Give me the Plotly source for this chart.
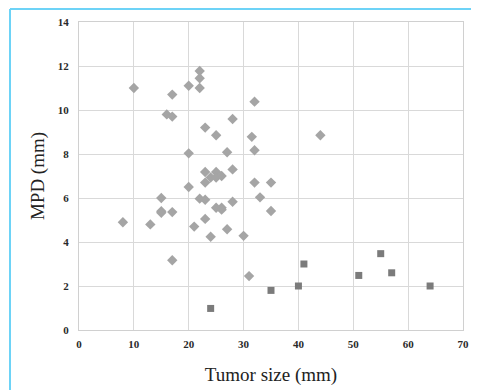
import plotly.graph_objects as go

# Diamond series (MPD vs tumor size)
diamond_x = [8, 10, 13, 15, 15, 15, 16, 17, 17, 17, 17, 20, 20, 20, 21, 22, 22, 22, 22,
             23, 23, 23, 23, 23, 24, 24, 25, 25, 25, 25, 26, 26, 26, 27, 27, 28, 28, 28,
             30, 31, 31.5, 32, 32, 32, 33, 35, 35, 44]
diamond_y = [4.9, 11.0, 4.8, 6.0, 5.4, 5.33, 9.8, 10.7, 9.7, 5.36, 3.17, 11.1, 8.03, 6.5,
             4.7, 11.77, 11.44, 11.0, 5.97, 9.2, 7.18, 6.7, 5.92, 5.05, 6.93, 4.24, 8.85,
             7.18, 6.93, 5.56, 7.0, 5.56, 5.47, 8.08, 4.58, 9.59, 7.3, 5.83, 4.28, 2.45,
             8.78, 10.38, 8.17, 6.7, 6.03, 6.7, 5.41, 8.85]

# Square series
square_x = [24, 35, 40, 41, 51, 55, 57, 64]
square_y = [0.98, 1.8, 2.0, 3.0, 2.48, 3.47, 2.6, 2.0]

x_ticks = [0, 10, 20, 30, 40, 50, 60, 70]
y_ticks = [0, 2, 4, 6, 8, 10, 12, 14]

fig = go.Figure()
fig.add_trace(go.Scatter(x=diamond_x, y=diamond_y, mode="markers",
                         marker=dict(symbol="diamond", size=8, color="#a5a5a5", line=dict(width=0)),
                         showlegend=False))
fig.add_trace(go.Scatter(x=square_x, y=square_y, mode="markers",
                         marker=dict(symbol="square", size=7, color="#7b7b7b", line=dict(width=0)),
                         showlegend=False))

# page has an 8px body margin, so the figure is offset by 8px
OFF = 8
W, H = 479 - OFF, 390 - OFF
L, R, T, B = 79 - OFF, 16, 22 - OFF, 60
pw, ph = W - L - R, H - T - B

def fx(px):  # page pixel x -> paper
    return (px - OFF - L) / pw

def fy(py):  # page pixel y -> paper
    return (H - B - (py - OFF)) / ph

border = "#6dd3f7"
fig.add_shape(type="line", xref="paper", yref="paper",
              x0=fx(10), x1=fx(480), y0=fy(9), y1=fy(9),
              line=dict(color=border, width=2))
fig.add_shape(type="line", xref="paper", yref="paper",
              x0=fx(10), x1=fx(10), y0=fy(9), y1=fy(400),
              line=dict(color=border, width=2))

tick_font = dict(family="Liberation Serif", size=11, color="#2a2a2a")
title_font = dict(family="Liberation Serif", size=19, color="#222222")
fig.update_layout(
    width=W, height=H,
    margin=dict(l=L, r=R, t=T, b=B, autoexpand=False),
    paper_bgcolor="white", plot_bgcolor="white",
    font=dict(family="Liberation Serif", color="#222222"),
    xaxis=dict(range=[0, 70], tickvals=x_ticks, ticktext=["<b>%d</b>" % v for v in x_ticks],
               showgrid=True, gridcolor="#d9d9d9", gridwidth=1, automargin=False,
               showline=True, linecolor="#d0d0d0", linewidth=1, mirror=True,
               zeroline=False, ticks="", tickfont=tick_font, ticklabelstandoff=4,
               title=dict(text="Tumor size (mm)", font=title_font, standoff=18)),
    yaxis=dict(range=[0, 14], tickvals=y_ticks, ticktext=["<b>%d</b>" % v for v in y_ticks],
               showgrid=True, gridcolor="#d9d9d9", gridwidth=1, automargin=False,
               showline=True, linecolor="#d0d0d0", linewidth=1, mirror=True,
               zeroline=False, ticks="", tickfont=tick_font, ticklabelstandoff=7,
               title=dict(text="MPD (mm)", font=title_font, standoff=8)),
)

fig.write_html("out.html")
